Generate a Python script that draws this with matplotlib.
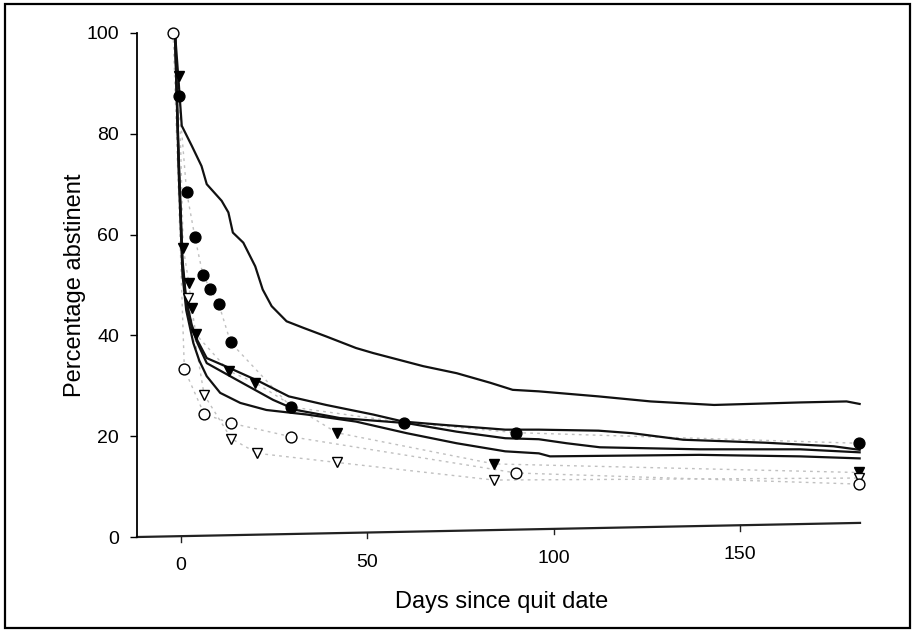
import matplotlib
matplotlib.use("Agg")
import matplotlib.pyplot as plt
import matplotlib.transforms as mtransforms
from matplotlib.patches import Rectangle

plt.rcParams['font.family'] = ['Liberation Sans', 'DejaVu Sans']

# ---- Data ----
# Solid model curves
curve_a_x = [-1.5, -0.5, 0.3, 3, 5.6, 7, 11, 12.8, 14, 16.8, 20, 22, 24.4, 28.4, 32.9, 39, 47,
             51.6, 65, 74, 83, 89, 96, 112, 126, 143, 166, 178.5, 182]
curve_a_y = [100, 90, 81.6, 77.6, 73.6, 70, 66.7, 64.4, 60.4, 58.4, 53.7, 49.1, 45.8, 42.8, 41.5,
             39.8, 37.5, 36.5, 33.9, 32.5, 30.6, 29.2, 28.9, 27.9, 26.9, 26.2, 26.7, 26.9, 26.4]

curve_b_x = [-1.5, -0.5, 0.5, 1.5, 3, 4.5, 7, 13.2, 21, 29, 39, 51.6, 59.7, 69.5, 87, 96, 112,
             121, 134.7, 157, 175, 182]
curve_b_y = [100, 75, 55, 47, 42, 39, 35.5, 33.5, 30.9, 27.9, 26.2, 24.3, 22.9, 22.3, 21.3, 21.3,
             21.1, 20.6, 19.3, 18.7, 18.0, 17.3]

curve_c_x = [-1.5, -0.5, 0.5, 1.5, 3, 4.5, 7, 15, 24.8, 31, 42.7, 60.6, 74, 87, 96, 103.5, 112.4,
             139, 166, 182]
curve_c_y = [100, 74, 54, 46.5, 41.5, 38.5, 34.5, 31.2, 27.2, 25.2, 23.6, 22.6, 20.9, 19.6, 19.4,
             18.6, 17.8, 17.4, 17.4, 16.8]

curve_d_x = [-1.5, -0.5, 0.5, 1.5, 3.4, 5, 7, 10.6, 16, 23, 33.8, 47, 60.6, 74, 87, 96, 99, 139,
             166, 182]
curve_d_y = [100, 72, 52, 45, 38.5, 35, 31.9, 28.6, 26.6, 25.2, 24.3, 22.9, 20.6, 18.6, 17.0, 16.6,
             16.0, 16.3, 16.0, 15.6]

# Observed data series (markers)
filled_circle_x = [-0.5, 1.6, 3.8, 6, 8, 10.2, 13.4, 29.6, 59.8, 90, 181.7]
filled_circle_y = [87.5, 68.5, 59.6, 51.9, 49.2, 46.3, 38.6, 25.8, 22.7, 20.7, 18.6]

filled_tri_x = [-0.5, 0.7, 2.2, 3, 4.1, 13, 20, 41.8, 84, 181.7]
filled_tri_y = [91.5, 57.4, 50.4, 45.4, 40.2, 32.9, 30.6, 20.7, 14.5, 12.8]

open_tri_x = [2, 6.3, 13.6, 20.6, 41.8, 84, 181.7]
open_tri_y = [47.4, 28.2, 19.5, 16.6, 14.8, 11.3, 11.7]

open_circle_x = [-2, 1, 6.3, 13.4, 29.6, 90, 181.7]
open_circle_y = [100, 33.3, 24.4, 22.6, 19.9, 12.7, 10.5]

x_ticks = [0, 50, 100, 150]
y_ticks = [0, 20, 40, 60, 80, 100]

# ---- Figure ----
fig = plt.figure(figsize=(9.15, 6.32), dpi=100)
ax = fig.add_axes([0.1497, 0.1503, 0.7902, 0.7975])

# Faint dotted connectors of observed series
for xs, ys in [(filled_circle_x, filled_circle_y), (filled_tri_x, filled_tri_y),
               (open_tri_x, open_tri_y), (open_circle_x, open_circle_y)]:
    ax.plot(xs, ys, linestyle=(0, (2, 3)), color='#c0c0c0', lw=1.0, zorder=1, clip_on=False)

# Solid model curves
for xs, ys in [(curve_a_x, curve_a_y), (curve_b_x, curve_b_y),
               (curve_c_x, curve_c_y), (curve_d_x, curve_d_y)]:
    ax.plot(xs, ys, color='#111111', lw=1.6, zorder=2, clip_on=False)

# Markers
ax.plot(filled_circle_x, filled_circle_y, 'o', ms=7.8, mfc='black', mec='black', ls='none',
        zorder=4, clip_on=False)
ax.plot(filled_tri_x, filled_tri_y, 'v', ms=7.8, mfc='black', mec='black', ls='none',
        zorder=4, clip_on=False)
ax.plot(open_tri_x, open_tri_y, 'v', ms=7.8, mfc='white', mec='black', mew=1.0, ls='none',
        zorder=4, clip_on=False)
ax.plot(open_circle_x, open_circle_y, 'o', ms=7.8, mfc='white', mec='black', mew=1.0, ls='none',
        zorder=4, clip_on=False)

ax.set_xlim(-11.7, 182.1)
ax.set_ylim(0, 100)

for s in ['top', 'right', 'bottom']:
    ax.spines[s].set_visible(False)
ax.spines['left'].set_linewidth(1.3)

ax.set_yticks(y_ticks)
ax.tick_params(axis='y', direction='out', length=5, width=1.0, pad=8, labelsize=14)

# Slightly skewed bottom axis line as in the scanned reference
slope = 0.028
ax.plot([0, 1], [0, slope], transform=ax.transAxes, color='#222222', lw=1.6, clip_on=False)
ax.set_xticks([])
blend = mtransforms.blended_transform_factory(ax.transData, ax.transAxes)
x0, x1 = ax.get_xlim()
for t in x_ticks:
    f = (t - x0) / (x1 - x0)
    yb = slope * f
    ax.plot([t, t], [yb, yb - 0.011], transform=blend, color='#222222', lw=1.0, clip_on=False)
    ax.text(t, yb - 0.042, str(t), transform=blend, ha='center', va='top', fontsize=14)

ax.set_ylabel('Percentage abstinent', fontsize=17, labelpad=0)
fig.text(0.548, 0.047, 'Days since quit date', ha='center', va='center', fontsize=17)

# Outer frame
fig.patches.append(Rectangle((0.005, 0.006), 0.99, 0.988, transform=fig.transFigure,
                             fill=False, edgecolor='black', lw=1.6))

fig.savefig('out.png', dpi=100, facecolor='white')
